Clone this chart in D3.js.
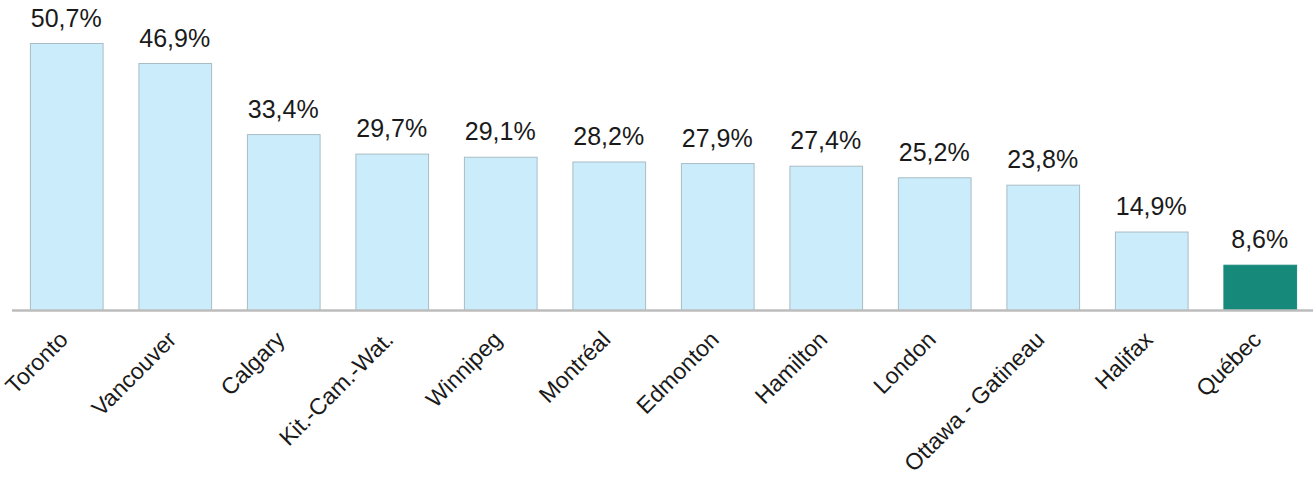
<!DOCTYPE html>
<html>
<head>
<meta charset="utf-8">
<script src="https://cdn.jsdelivr.net/npm/d3@7"></script>
<style>
  body { margin: 0; background: #fff; }
  text { font-family: "Liberation Sans", Arial, sans-serif; fill: #1a1a1a; }
</style>
</head>
<body>
<div id="chart"></div>
<script>
// Data
const cities = ["Toronto", "Vancouver", "Calgary", "Kit.-Cam.-Wat.", "Winnipeg", "Montréal",
    "Edmonton", "Hamilton", "London", "Ottawa - Gatineau", "Halifax", "Québec"];
const shares = [50.7, 46.9, 33.4, 29.7, 29.1, 28.2, 27.9, 27.4, 25.2, 23.8, 14.9, 8.6];
const highlight = "Québec";

const width = 1313, height = 477;
const baseY = 310;

const svg = d3.select("#chart").append("svg")
    .attr("width", width)
    .attr("height", height);

// Scales
let x = d3.scaleBand()
    .domain(cities)
    .range([12, 1314])
    .paddingInner(0.33)
    .paddingOuter(0.165);

let y = d3.scaleLinear()
    .domain([0, 50.7])
    .range([baseY, 43]);

const rows = cities.map((c, i) => ({ city: c, value: shares[i] }));

// Bars
svg.append("g").selectAll("rect")
    .data(rows)
    .enter()
    .append("rect")
    .attr("x", d => x(d.city) + 0.5)
    .attr("y", d => y(d.value) + 0.5)
    .attr("width", x.bandwidth())
    .attr("height", d => baseY - y(d.value))
    .attr("fill", d => d.city === highlight ? "#17897a" : "#cbedfb")
    .attr("stroke", d => d.city === highlight ? "#17897a" : "#a9bcc4")
    .attr("stroke-width", 1);

// Baseline
svg.append("line")
    .attr("x1", 12)
    .attr("x2", width)
    .attr("y1", baseY + 0.5)
    .attr("y2", baseY + 0.5)
    .attr("stroke", "#bcbcbc")
    .attr("stroke-width", 2.5);

// Value labels
svg.append("g").selectAll("text")
    .data(rows)
    .enter()
    .append("text")
    .attr("x", d => x(d.city) + x.bandwidth() / 2)
    .attr("y", d => y(d.value) - 16.5)
    .attr("text-anchor", "middle")
    .style("font-size", "25px")
    .text(d => d3.format(".1f")(d.value).replace(".", ",") + "%");

// Category labels (rotated)
svg.append("g").selectAll("text")
    .data(rows)
    .enter()
    .append("text")
    .attr("transform", d => `translate(${x(d.city) + x.bandwidth() / 2 + 3}, ${baseY + 31}) rotate(-45)`)
    .attr("text-anchor", "end")
    .style("font-size", "23px")
    .text(d => d.city);
</script>
</body>
</html>
